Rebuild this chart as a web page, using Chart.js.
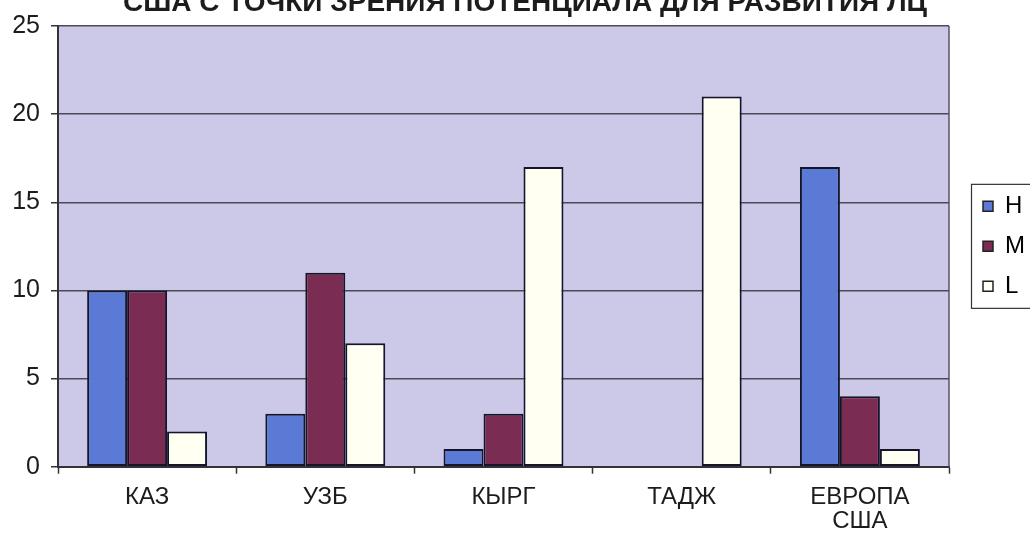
<!DOCTYPE html>
<html>
<head>
<meta charset="utf-8">
<script src="https://cdn.jsdelivr.net/npm/chart.js@4"></script>
<style>
  html, body { margin: 0; padding: 0; background: #ffffff; overflow: hidden; }
  canvas { display: block; }
</style>
</head>
<body>
<canvas id="chart" width="1030" height="539"></canvas>
<script>
// Categories and series
const categories = ['КАЗ', 'УЗБ', 'КЫРГ', 'ТАДЖ', ['ЕВРОПА', 'США']];
const seriesNames = ['H', 'M', 'L'];
const valuesH = [10, 3, 1, 0, 17];
const valuesM = [10, 11, 3, 0, 4];
const valuesL = [2, 7, 17, 21, 1];
const yTicks = [0, 5, 10, 15, 20, 25];
const titleText = 'США С ТОЧКИ ЗРЕНИЯ ПОТЕНЦИАЛА ДЛЯ РАЗВИТИЯ ЛЦ';

const FONT = '"Liberation Sans", Arial, sans-serif';
const INK = '#1c1c1c';
const seriesColors = ['#5a7ad6', '#7a2c52', '#fffff2'];
const seriesValues = [valuesH, valuesM, valuesL];

// Lavender plot area, right frame line, legend frame and the heading
const plotFrame = {
  id: 'plotFrame',
  beforeDraw(chart) {
    const { ctx, chartArea: a } = chart;
    ctx.save();
    ctx.fillStyle = '#ccc8e8';
    ctx.fillRect(a.left, a.top, a.right - a.left, a.bottom - a.top);
    ctx.restore();
  },
  afterDraw(chart) {
    const { ctx, chartArea: a } = chart;
    ctx.save();
    ctx.strokeStyle = '#555560';
    ctx.lineWidth = 1.5;
    ctx.beginPath();
    ctx.moveTo(a.right, a.top);
    ctx.lineTo(a.right, a.bottom);
    ctx.stroke();

    const hb = chart.legend.legendHitBoxes;
    if (hb && hb.length) {
      const first = hb[0], last = hb[hb.length - 1];
      const x0 = first.left - 11.5;
      const y0 = first.top - 10;
      const y1 = last.top + last.height + 10;
      ctx.strokeStyle = '#333333';
      ctx.lineWidth = 1.2;
      ctx.strokeRect(x0, y0, chart.width + 20 - x0, y1 - y0);
    }

    ctx.fillStyle = INK;
    ctx.font = 'bold 28px ' + FONT;
    ctx.textAlign = 'center';
    ctx.textBaseline = 'alphabetic';
    ctx.fillText(titleText, 525, 11);
    ctx.restore();
  }
};

new Chart(document.getElementById('chart'), {
  type: 'bar',
  data: {
    labels: categories,
    datasets: seriesNames.map((name, i) => ({
      label: name,
      data: seriesValues[i],
      backgroundColor: seriesColors[i],
      borderColor: '#15152a',
      borderWidth: 2,
      borderSkipped: false,
      barPercentage: 1,
      categoryPercentage: 0.673,
      xAxisID: 'x',
      yAxisID: 'y'
    }))
  },
  options: {
    responsive: false,
    animation: false,
    devicePixelRatio: 1,
    layout: { padding: { left: 13, top: 23, right: 0, bottom: 4 } },
    plugins: {
      title: { display: false },
      tooltip: { enabled: false },
      legend: {
        display: true,
        position: 'right',
        align: 'center',
        fullSize: false,
        maxWidth: 63,
        labels: {
          boxWidth: 10,
          boxHeight: 10,
          padding: 16,
          color: INK,
          font: { family: FONT, size: 24 },
          generateLabels(chart) {
            return chart.data.datasets.map((ds, i) => ({
              text: ds.label,
              fillStyle: ds.backgroundColor,
              strokeStyle: '#222222',
              lineWidth: 1.5,
              hidden: false,
              datasetIndex: i
            }));
          }
        }
      }
    },
    scales: {
      x: {
        type: 'category',
        offset: true,
        grid: {
          offset: true,
          drawOnChartArea: false,
          drawTicks: true,
          tickLength: 7,
          tickColor: '#333333',
          tickWidth: 1.5
        },
        border: { display: true, color: '#333333', width: 2 },
        ticks: {
          color: INK,
          padding: 12,
          maxRotation: 0,
          autoSkip: false,
          font: { family: FONT, size: 24, lineHeight: 1.0 }
        },
        afterFit(scale) { scale.height = 68.3; }
      },
      y: {
        type: 'linear',
        position: 'left',
        min: 0,
        max: 25,
        afterBuildTicks(scale) {
          scale.ticks = yTicks.map(v => ({ value: v }));
        },
        grid: {
          color: '#4a4a55',
          lineWidth: 1.5,
          drawTicks: true,
          tickLength: 7,
          tickColor: '#333333'
        },
        border: { display: true, color: '#333333', width: 2 },
        ticks: {
          color: INK,
          padding: 11,
          font: { family: FONT, size: 25 }
        },
        afterFit(scale) { scale.width = 45; }
      },
      gap: {
        type: 'linear',
        position: 'right',
        display: true,
        grid: { display: false, drawTicks: false },
        border: { display: false },
        ticks: { display: false },
        afterFit(scale) { scale.width = 18; }
      }
    }
  },
  plugins: [plotFrame]
});
</script>
</body>
</html>
